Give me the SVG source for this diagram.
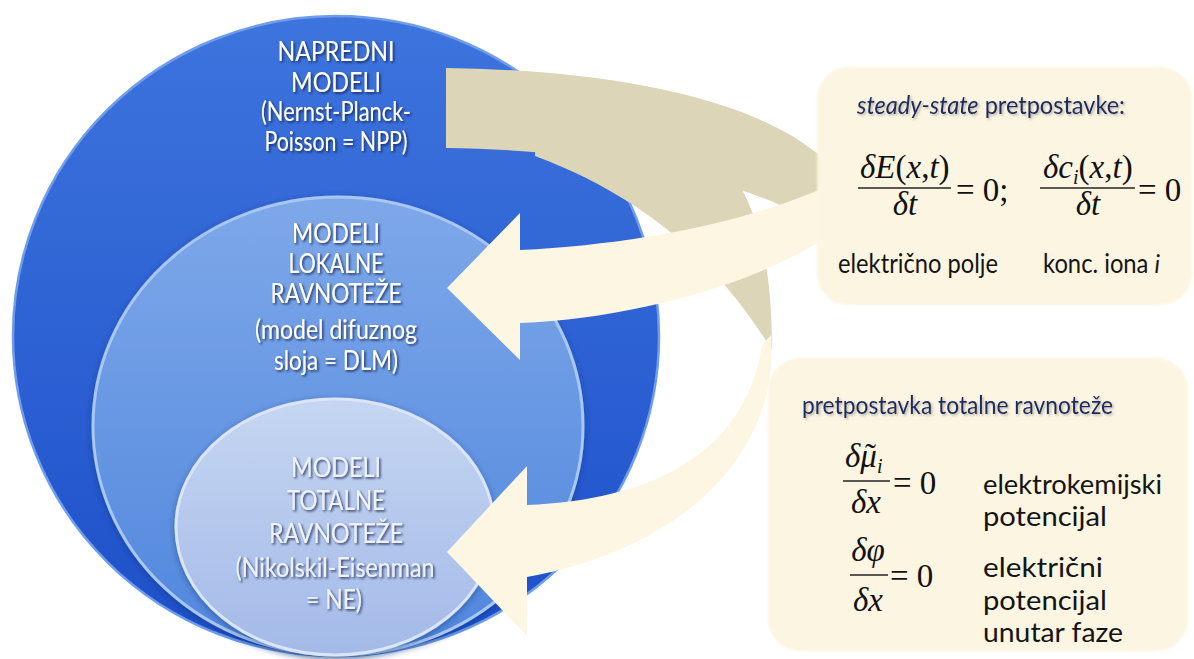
<svg xmlns="http://www.w3.org/2000/svg" width="1194" height="659" viewBox="0 0 1194 659">
<defs>
<linearGradient id="gOuter" x1="0" y1="0" x2="0" y2="1"><stop offset="0" stop-color="#3e74dd"/><stop offset="0.6" stop-color="#2a5ed2"/><stop offset="1" stop-color="#1d4fc7"/></linearGradient>
<linearGradient id="gMid" x1="0" y1="0" x2="0" y2="1"><stop offset="0" stop-color="#7ea8e9"/><stop offset="1" stop-color="#4f86dd"/></linearGradient>
<linearGradient id="gIn" x1="0" y1="0" x2="0" y2="1"><stop offset="0" stop-color="#c6d6f2"/><stop offset="1" stop-color="#a3bae8"/></linearGradient>
<filter id="ts" x="-10%" y="-40%" width="125%" height="180%"><feDropShadow dx="1.5" dy="1.5" stdDeviation="0.8" flood-color="#0a1a45" flood-opacity="0.8"/></filter>
<filter id="ts2" x="-5%" y="-40%" width="115%" height="180%"><feDropShadow dx="1.5" dy="1.5" stdDeviation="1" flood-color="#777" flood-opacity="0.55"/></filter>
<filter id="cs" x="-5%" y="-5%" width="110%" height="112%"><feDropShadow dx="0" dy="2" stdDeviation="3" flood-color="#0d2a70" flood-opacity="0.45"/></filter>
<filter id="soft" x="-2%" y="-2%" width="104%" height="104%"><feGaussianBlur stdDeviation="1.2"/></filter>
</defs>
<style>
.ct{font-family:Lato,'Open Sans',sans-serif;font-size:27px;text-anchor:middle;fill:#ffffff;filter:url(#ts)}
.ct3{fill:#eef2fb}
.bt{font-family:Lato,'Open Sans',sans-serif;font-size:25px;fill:#1b2a5e;filter:url(#ts2)}
.lb{font-family:Lato,'Open Sans',sans-serif;font-size:26px;fill:#141414}
.m{font-family:'Liberation Serif','Times New Roman',serif;font-size:33px;fill:#111}
.mc{text-anchor:middle}
.i{font-style:italic}
.bar{stroke:#222;stroke-width:1.4}
.dark{fill:#ddd5b7}
.light{fill:#fdf6e3}
.box{fill:#fcf5e1;filter:url(#soft)}
</style>
<rect width="1194" height="659" fill="#ffffff"/>

<g id="outer-circle">
<ellipse cx="336" cy="336" rx="323" ry="320" fill="url(#gOuter)" stroke="#6f9deb" stroke-width="2.5"/>
<text class="ct" x="336" y="61" textLength="117" lengthAdjust="spacingAndGlyphs">NAPREDNI</text>
<text class="ct" x="336" y="92" textLength="90" lengthAdjust="spacingAndGlyphs">MODELI</text>
<text class="ct" x="336" y="121" textLength="150" lengthAdjust="spacingAndGlyphs">(Nernst-Planck-</text>
<text class="ct" x="336" y="151" textLength="143" lengthAdjust="spacingAndGlyphs">Poisson = NPP)</text>
</g>

<g id="middle-circle">
<ellipse cx="338" cy="426" rx="245" ry="229" fill="url(#gMid)" stroke="#a9c7f3" stroke-width="3" filter="url(#cs)"/>
<text class="ct" x="336" y="243" textLength="88" lengthAdjust="spacingAndGlyphs">MODELI</text>
<text class="ct" x="336" y="273" textLength="95" lengthAdjust="spacingAndGlyphs">LOKALNE</text>
<text class="ct" x="336" y="303" textLength="131" lengthAdjust="spacingAndGlyphs">RAVNOTEŽE</text>
<text class="ct" x="336" y="339" textLength="162" lengthAdjust="spacingAndGlyphs">(model difuznog</text>
<text class="ct" x="336" y="370" textLength="124" lengthAdjust="spacingAndGlyphs">sloja = DLM)</text>
</g>

<g id="inner-circle">
<ellipse cx="335" cy="527" rx="159" ry="128" fill="url(#gIn)" stroke="#dbe5f7" stroke-width="3" filter="url(#cs)"/>
<text class="ct ct3" x="336" y="477" textLength="90" lengthAdjust="spacingAndGlyphs">MODELI</text>
<text class="ct ct3" x="336" y="510" textLength="98" lengthAdjust="spacingAndGlyphs">TOTALNE</text>
<text class="ct ct3" x="336" y="543" textLength="134" lengthAdjust="spacingAndGlyphs">RAVNOTEŽE</text>
<text class="ct ct3" x="335" y="577" textLength="199" lengthAdjust="spacingAndGlyphs">(Nikolskil-Eisenman</text>
<text class="ct ct3" x="334" y="609" textLength="56" lengthAdjust="spacingAndGlyphs">= NE)</text>
</g>

<g id="connectors">
<path class="dark" d="M535,150 L720,160 C760,200 772,270 772,350 C740,300 680,210 535,156 Z"/>
<path class="dark" d="M446,68 C600,70 760,95 830,165 L836,240 L830,235 C760,178 600,150 446,148 Z"/>
<path class="light" d="M447,288 L520,213 L520,250 C640,244 760,220 840,180 L840,228 C770,280 640,318 520,323 L520,360 Z"/>
<path class="light" d="M771,335 C780,440 700,545 527,577 L527,636 L447,552 L527,466 L527,505 C650,500 745,455 762,345 Z"/>
</g>

<g id="box-steady-state">
<rect class="box" x="817" y="67" width="375" height="238" rx="32"/>
<text class="bt" x="857" y="114" textLength="268" lengthAdjust="spacingAndGlyphs"><tspan font-style="italic">steady-state</tspan> pretpostavke:</text>
<text class="m" x="860" y="178"><tspan class="i">δE</tspan>(<tspan class="i">x</tspan>,<tspan class="i">t</tspan>)</text>
<line class="bar" x1="858" y1="188" x2="951" y2="188"/>
<text class="m mc" x="905" y="215"><tspan class="i">δt</tspan></text>
<text class="m" x="956" y="201">= 0;</text>
<text class="m" x="1043" y="178"><tspan class="i">δc</tspan><tspan class="i" font-size="20" dy="6">i</tspan><tspan dy="-6">(</tspan><tspan class="i">x</tspan>,<tspan class="i">t</tspan>)</text>
<line class="bar" x1="1040" y1="188" x2="1135" y2="188"/>
<text class="m mc" x="1088" y="215"><tspan class="i">δt</tspan></text>
<text class="m" x="1138" y="201">= 0</text>
<text class="lb" x="838" y="273" textLength="160" lengthAdjust="spacingAndGlyphs">električno polje</text>
<text class="lb" x="1043" y="273" textLength="117" lengthAdjust="spacingAndGlyphs">konc. iona <tspan font-style="italic">i</tspan></text>
</g>

<g id="box-total-equilibrium">
<rect class="box" x="768" y="358" width="420" height="293" rx="32"/>
<text class="bt" x="802" y="414" textLength="311" lengthAdjust="spacingAndGlyphs">pretpostavka totalne ravnoteže</text>
<text class="m" x="845" y="467"><tspan class="i">δμ</tspan><tspan dx="-12">˜</tspan><tspan class="i" font-size="20" dx="1" dy="6">i</tspan></text>
<line class="bar" x1="843" y1="481" x2="890" y2="481"/>
<text class="m mc" x="866" y="513"><tspan class="i">δx</tspan></text>
<text class="m" x="893" y="494">= 0</text>
<text class="lb" x="983" y="494" textLength="179" lengthAdjust="spacingAndGlyphs">elektrokemijski</text>
<text class="lb" x="983" y="526" textLength="124" lengthAdjust="spacingAndGlyphs">potencijal</text>
<text class="m mc" x="868" y="561"><tspan class="i">δφ</tspan></text>
<line class="bar" x1="850" y1="575" x2="888" y2="575"/>
<text class="m mc" x="868" y="611"><tspan class="i">δx</tspan></text>
<text class="m" x="890" y="587">= 0</text>
<text class="lb" x="983" y="577" textLength="120" lengthAdjust="spacingAndGlyphs">električni</text>
<text class="lb" x="983" y="610" textLength="124" lengthAdjust="spacingAndGlyphs">potencijal</text>
<text class="lb" x="983" y="642" textLength="140" lengthAdjust="spacingAndGlyphs">unutar faze</text>
</g>
</svg>
